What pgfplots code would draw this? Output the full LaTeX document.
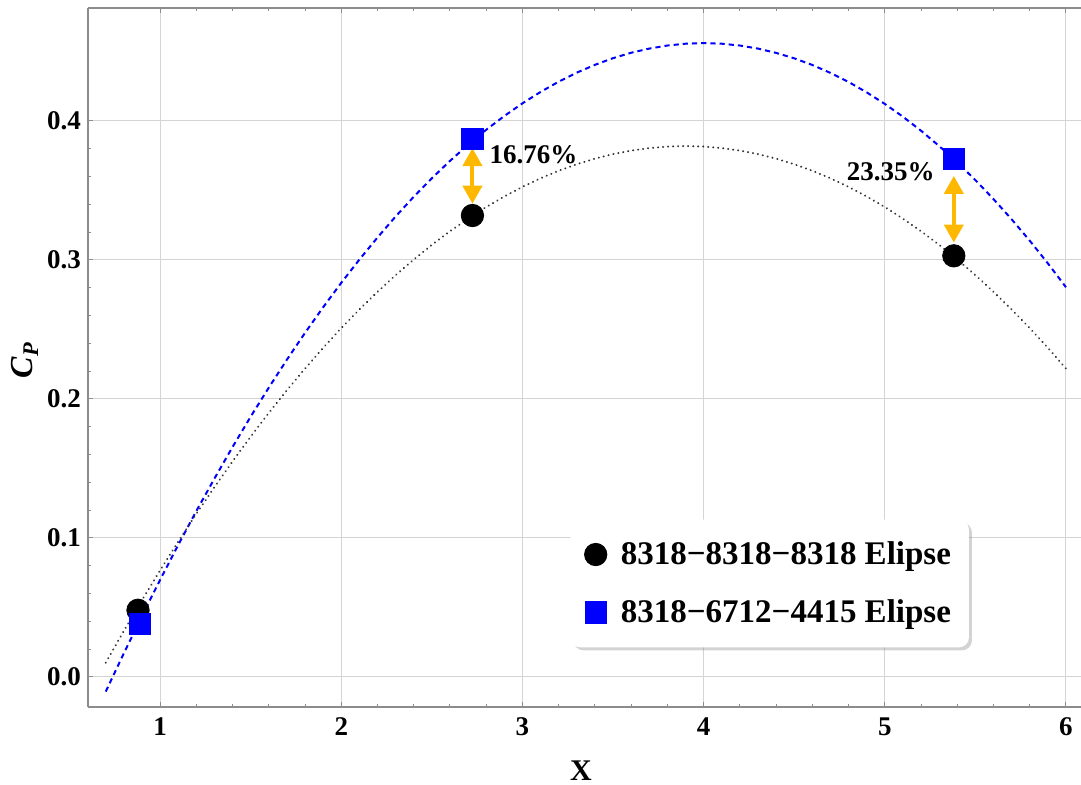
\documentclass[border=0pt]{standalone}
\usepackage{fontspec}
\setmainfont{Liberation Serif}
\usepackage{pgfplots}
\pgfplotsset{compat=1.18}
\usetikzlibrary{arrows.meta,shadows}
\definecolor{arrowor}{RGB}{255,184,0}
\definecolor{gridc}{RGB}{212,212,212}
\definecolor{framec}{RGB}{140,140,140}
\definecolor{dotc}{RGB}{50,50,50}
\begin{document}
\begin{tikzpicture}
\begin{axis}[
 at={(0,0)}, anchor=south west,
 scale only axis, width=496.5pt, height=349.5pt,
 xmin=0.602, xmax=6.083, ymin=-0.0216, ymax=0.4813,
 axis x line=box, axis y line=left, y axis line style={-},
 axis line style={framec, line width=0.6pt},
 xtick={1,2,3,4,5,6}, ytick={0,0.1,0.2,0.3,0.4},
 minor x tick num=4, minor y tick num=4,
 xtick pos=both, ytick pos=left, tick align=inside,
 major tick length=2.4pt, minor tick length=1.6pt,
 every tick/.style={framec, line width=0.5pt},
 grid=major, major grid style={gridc, line width=0.5pt},
 /pgf/number format/assume math mode=true,
 ticklabel style={font=\fontsize{13.5}{16}\selectfont\bfseries},
 yticklabel style={/pgf/number format/.cd, fixed, fixed zerofill, precision=1},
 xticklabel style={yshift=-2pt},
 xlabel={X},
 xlabel style={font=\fontsize{15}{18}\selectfont\bfseries, at={(axis description cs:0.4965,0)}, anchor=center, yshift=-32pt},
 ylabel={\textit{C\textsubscript{P}}},
 ylabel style={font=\fontsize{16}{19}\selectfont\bfseries, at={(axis description cs:0,0.496)}, anchor=center, yshift=31.5pt},
 legend style={at={(0.4855,0.2687)}, anchor=north west, draw=none, fill=white,
   rounded corners=5pt, drop shadow={opacity=0.35, shadow xshift=1.5pt, shadow yshift=-1.5pt},
   font=\fontsize{16.5}{20}\selectfont\bfseries, inner xsep=7pt, inner ysep=9pt,
   row sep=12pt, cells={anchor=west}},
 legend cell align=left,
]
% fitted curves
\addplot[blue, line width=1pt, dash pattern=on 2.6pt off 2pt, forget plot] coordinates {
(0.7,-0.0105) (0.8,0.0171) (0.9,0.0439) (1.0,0.0699) (1.1,0.0950) (1.2,0.1194)
(1.3,0.1428) (1.4,0.1655) (1.5,0.1873) (1.6,0.2082) (1.7,0.2283) (1.8,0.2476)
(1.9,0.2660) (2.0,0.2836) (2.1,0.3003) (2.2,0.3162) (2.3,0.3313) (2.4,0.3455)
(2.5,0.3588) (2.6,0.3713) (2.7,0.3829) (2.8,0.3937) (2.9,0.4036) (3.0,0.4127)
(3.1,0.4209) (3.2,0.4283) (3.3,0.4348) (3.4,0.4404) (3.5,0.4452) (3.6,0.4491)
(3.7,0.4521) (3.8,0.4543) (3.9,0.4556) (4.0,0.4560) (4.1,0.4556) (4.2,0.4543)
(4.3,0.4521) (4.4,0.4490) (4.5,0.4451) (4.6,0.4403) (4.7,0.4346) (4.8,0.4281)
(4.9,0.4206) (5.0,0.4123) (5.1,0.4031) (5.2,0.3930) (5.3,0.3820) (5.4,0.3702)
(5.5,0.3575) (5.6,0.3438) (5.7,0.3293) (5.8,0.3139) (5.9,0.2976) (6.0,0.2804)
};
\addplot[dotc, line width=1.1pt, dash pattern=on 0.01pt off 2.5pt, line cap=round, forget plot] coordinates {
(0.7,0.0103) (0.8,0.0332) (0.9,0.0553) (1.0,0.0767) (1.1,0.0974) (1.2,0.1174)
(1.3,0.1366) (1.4,0.1551) (1.5,0.1729) (1.6,0.1900) (1.7,0.2063) (1.8,0.2219)
(1.9,0.2368) (2.0,0.2510) (2.1,0.2644) (2.2,0.2771) (2.3,0.2891) (2.4,0.3003)
(2.5,0.3109) (2.6,0.3207) (2.7,0.3297) (2.8,0.3381) (2.9,0.3457) (3.0,0.3526)
(3.1,0.3588) (3.2,0.3642) (3.3,0.3689) (3.4,0.3729) (3.5,0.3762) (3.6,0.3787)
(3.7,0.3805) (3.8,0.3816) (3.9,0.3820) (4.0,0.3816) (4.1,0.3805) (4.2,0.3787)
(4.3,0.3762) (4.4,0.3729) (4.5,0.3689) (4.6,0.3642) (4.7,0.3588) (4.8,0.3526)
(4.9,0.3457) (5.0,0.3381) (5.1,0.3297) (5.2,0.3207) (5.3,0.3109) (5.4,0.3003)
(5.5,0.2891) (5.6,0.2771) (5.7,0.2644) (5.8,0.2510) (5.9,0.2368) (6.0,0.2219)
};
% measured points
\addplot[only marks, mark=*, mark size=5.6pt, mark options={fill=black, draw=black}] coordinates {
(0.878,0.048) (2.724,0.332) (5.381,0.303)};
\addlegendentry{\hspace*{5pt}8318−8318−8318 Elipse}
\addplot[only marks, mark=square*, mark size=5.3pt, mark options={fill=blue, draw=blue}] coordinates {
(0.890,0.038) (2.724,0.387) (5.381,0.3725)};
\addlegendentry{\hspace*{5pt}8318−6712−4415 Elipse}
% difference arrows
\addplot[arrowor, line width=2pt, {Triangle[width=9.5pt,length=9pt]}-{Triangle[width=9.5pt,length=9pt]}, forget plot] coordinates {(2.724,0.3805) (2.724,0.3405)};
\addplot[arrowor, line width=2pt, {Triangle[width=9.5pt,length=9pt]}-{Triangle[width=9.5pt,length=9pt]}, forget plot] coordinates {(5.381,0.3605) (5.381,0.3125)};
\node[font=\fontsize{13.5}{16}\selectfont\bfseries] at (axis cs:3.061,0.3755) {16.76\%};
\node[font=\fontsize{13.5}{16}\selectfont\bfseries] at (axis cs:5.033,0.3633) {23.35\%};
\end{axis}
\pgfresetboundingbox
\path[use as bounding box] (-44pt,-39pt) rectangle (496.5pt,353.5pt);
\end{tikzpicture}
\end{document}
